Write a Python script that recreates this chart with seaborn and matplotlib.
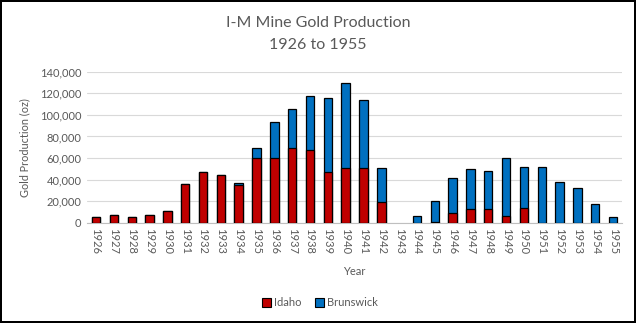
import matplotlib
matplotlib.use("Agg")
import matplotlib.pyplot as plt
import seaborn as sns
import numpy as np
import pandas as pd
from matplotlib.patches import Patch

years = [str(y) for y in range(1926, 1956)]
idaho = [5500, 7000, 5500, 7000, 11000, 36000, 47000, 44500, 35000, 60000,
         60000, 69000, 67500, 47000, 50500, 50500, 19000, 0, 0, 500,
         9000, 12500, 12500, 6500, 14000, 0, 0, 0, 0, 0]
brunswick = [0, 0, 0, 0, 0, 0, 0, 0, 2000, 9500,
             33500, 36500, 50000, 68500, 79000, 63500, 31500, 0, 6000, 19500,
             32500, 37500, 35500, 53500, 37500, 51500, 37500, 32500, 17500, 5500]
yticks = [0, 20000, 40000, 60000, 80000, 100000, 120000, 140000]

c_idaho = "#C00000"
c_bruns = "#0070C0"
txt = "#595959"

sns.set_theme(style="white")
plt.rcParams['font.family'] = ['Lato', 'DejaVu Sans']

df = pd.DataFrame({"Year": years, "Idaho": idaho, "Brunswick": brunswick})
df["Total"] = df["Idaho"] + df["Brunswick"]
df["TotalPlot"] = df["Total"].where(df["Total"] > 0, np.nan)
df["IdahoPlot"] = df["Idaho"].where(df["Idaho"] > 0, np.nan)

fig = plt.figure(figsize=(6.36, 3.23), dpi=100, linewidth=1.5, edgecolor="#000000")
ax = fig.add_axes([0.137, 0.31, 0.841, 0.468])

sns.barplot(data=df, x="Year", y="TotalPlot", color=c_bruns, saturation=1,
            width=0.47, edgecolor="black", linewidth=0.9, ax=ax, zorder=3)
sns.barplot(data=df, x="Year", y="IdahoPlot", color=c_idaho, saturation=1,
            width=0.47, edgecolor="black", linewidth=0.9, ax=ax, zorder=4)

ax.set_ylim(0, 140000)
ax.set_xlim(-0.5, len(years) - 0.5)
ax.set_yticks(yticks)
ax.set_yticklabels([f"{v:,}" for v in yticks], color=txt, fontsize=8)
ax.set_xticks(range(len(years)))
ax.set_xticklabels(years, rotation=-90, color=txt, fontsize=8)
ax.tick_params(axis="both", length=0, pad=4)
ax.yaxis.grid(True, color="#D9D9D9", linewidth=0.8, zorder=0)
ax.set_axisbelow(True)
for s in ["top", "right", "left"]:
    ax.spines[s].set_visible(False)
ax.spines["bottom"].set_color("#BFBFBF")
ax.spines["bottom"].set_linewidth(0.8)

ax.set_ylabel("Gold Production (oz)", color=txt, fontsize=7.8, labelpad=7)
ax.set_xlabel("Year", color=txt, fontsize=8, labelpad=8)

fig.text(0.5, 0.93, "I-M Mine Gold Production", ha="center", va="center",
         fontsize=11.5, color=txt)
fig.text(0.5, 0.86, "1926 to 1955", ha="center", va="center",
         fontsize=11.5, color=txt)

handles = [Patch(facecolor=c_idaho, edgecolor="black", linewidth=0.8, label="Idaho"),
           Patch(facecolor=c_bruns, edgecolor="black", linewidth=0.8, label="Brunswick")]
leg = fig.legend(handles=handles, loc="center", bbox_to_anchor=(0.503, 0.062), ncol=2,
                 frameon=False, fontsize=8, handlelength=0.8, handleheight=0.8,
                 handletextpad=0.3, columnspacing=1.2)
for t in leg.get_texts():
    t.set_color(txt)

fig.savefig("out.png", dpi=100, edgecolor=fig.get_edgecolor())
